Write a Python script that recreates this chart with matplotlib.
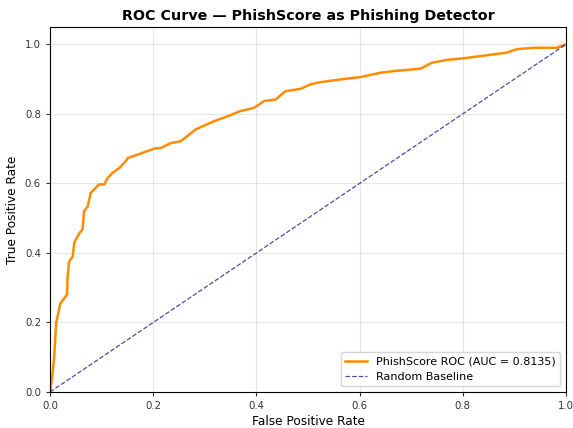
import matplotlib
matplotlib.use("Agg")
import matplotlib.pyplot as plt

fpr = [0.0, 0.004, 0.008, 0.012, 0.015, 0.02, 0.033, 0.034, 0.037, 0.044, 0.047, 0.057, 0.063, 0.066,
       0.073, 0.079, 0.095, 0.105, 0.112, 0.121, 0.134, 0.147, 0.151, 0.176, 0.202, 0.215, 0.234,
       0.253, 0.266, 0.282, 0.318, 0.344, 0.369, 0.395, 0.415, 0.437, 0.456, 0.486, 0.505, 0.524,
       0.563, 0.602, 0.640, 0.666, 0.718, 0.740, 0.769, 0.808, 0.859, 0.885, 0.905, 0.937, 0.982, 1.0]
tpr = [0.0, 0.04, 0.10, 0.20, 0.22, 0.255, 0.28, 0.33, 0.375, 0.39, 0.43, 0.457, 0.467, 0.52,
       0.534, 0.573, 0.597, 0.597, 0.616, 0.63, 0.644, 0.664, 0.673, 0.686, 0.70, 0.702, 0.716,
       0.721, 0.736, 0.755, 0.779, 0.793, 0.808, 0.817, 0.837, 0.841, 0.865, 0.872, 0.885, 0.891,
       0.899, 0.906, 0.918, 0.923, 0.930, 0.947, 0.955, 0.961, 0.971, 0.976, 0.986, 0.990, 0.990, 1.0]
auc_value = 0.8135
baseline = [0.0, 1.0]

fig = plt.figure(figsize=(5.73, 4.28), dpi=100)
ax = fig.add_axes([0.0873, 0.0841, 0.9005, 0.853])
ax.plot(fpr, tpr, color='darkorange', lw=1.8, label=f'PhishScore ROC (AUC = {auc_value:.4f})')
ax.plot(baseline, baseline, color='navy', lw=0.9, ls='--', alpha=0.7, label='Random Baseline')
ax.set_xlim(0, 1)
ax.set_ylim(0, 1.05)
ax.set_xlabel('False Positive Rate', fontsize=8.7, labelpad=3)
ax.set_ylabel('True Positive Rate', fontsize=8.7)
ax.set_title('ROC Curve — PhishScore as Phishing Detector', fontsize=10.3, fontweight='bold', pad=5)
ax.tick_params(labelsize=7.3, colors='#333333', length=3)
ax.grid(True, alpha=0.3)
ax.legend(loc='lower right', fontsize=8)
fig.savefig('out.png', dpi=100)
